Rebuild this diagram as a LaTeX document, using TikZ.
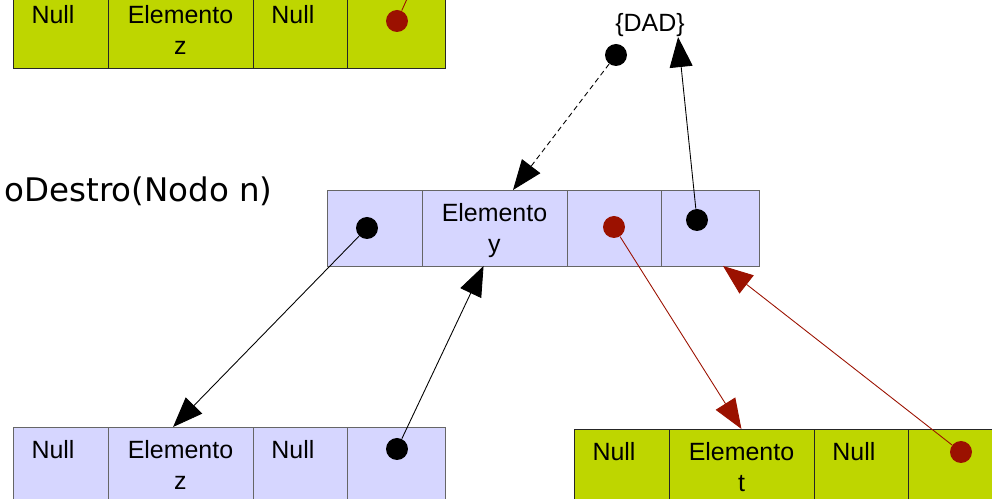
\documentclass[tikz,border=0pt]{standalone}
\usepackage{fontspec}
\setmainfont{Liberation Sans}
\newfontfamily\djvfont{DejaVu Sans}
\usetikzlibrary{arrows.meta,positioning}
\definecolor{leafgreen}{RGB}{190,214,0}
\definecolor{lilac}{RGB}{214,214,255}
\definecolor{ptrred}{RGB}{155,17,0}
\newcommand{\cellfont}{\fontsize{14.2}{17.5}\selectfont}
\newcommand{\nulltext}{Null\rule{0.3cm}{0pt}\\\phantom{z}}
\tikzstyle{arrow} = [-{Triangle[length=6mm,width=4.6mm]}]
\tikzstyle{cell} = [draw, rectangle, minimum width=1.9cm, minimum height=1.52cm, inner sep=0pt, outer sep=0pt, align=center, font=\cellfont, text depth=0pt]
\tikzstyle{widecell} = [cell, minimum width=2.9cm]
\tikzstyle{lastcell} = [cell, minimum width=1.95cm]
\tikzstyle{gcell} = [fill=leafgreen, draw=black!85]
\tikzstyle{lcell} = [fill=lilac, draw=black!60]
\tikzstyle{ptr} = [circle, fill, minimum size=4.4mm, inner sep=0pt]

\begin{document}
\begin{tikzpicture}[x=0.02cm, y=-0.02cm, line width=0.5pt]
        \useasboundingbox (0,0) rectangle (992,499);

        % upper record, cut by the frame
        \node[cell, gcell, anchor=north west] at (13,-8) (u1) {\nulltext};
        \node[widecell, gcell, right=0pt of u1] (u2) {Elemento\\z};
        \node[cell, gcell, right=0pt of u2] (u3) {\nulltext};
        \node[lastcell, gcell, right=0pt of u3] (u4) {};

        % node y
        \node[cell, lcell, anchor=north west] at (327,190) (m1) {};
        \node[widecell, lcell, right=0pt of m1] (m2) {Elemento\\y};
        \node[cell, lcell, right=0pt of m2] (m3) {};
        \node[lastcell, lcell, right=0pt of m3] (m4) {};

        % left child z
        \node[cell, lcell, anchor=north west] at (13,427) (b1) {\nulltext};
        \node[widecell, lcell, right=0pt of b1] (b2) {Elemento\\z};
        \node[cell, lcell, right=0pt of b2] (b3) {\nulltext};
        \node[lastcell, lcell, right=0pt of b3] (b4) {};

        % right child t
        \node[cell, gcell, anchor=north west] at (574,429) (r1) {\nulltext};
        \node[widecell, gcell, right=0pt of r1] (r2) {Elemento\\t};
        \node[cell, gcell, right=0pt of r2] (r3) {\nulltext};
        \node[lastcell, gcell, right=0pt of r3] (r4) {};

        \node[font=\cellfont, inner sep=0pt] at (650,25) (dad) {\{DAD\}};
        \node[font=\djvfont\fontsize{18.5}{22}\selectfont, anchor=base east, inner sep=0pt] at (273,202) (fn) {oDestro(Nodo n)};

        % pointers
        \node[ptr] at (616,55) (dadptr) {};
        \node[ptr] at (367,228) (m1ptr) {};
        \node[ptr, ptrred] at (614,227) (m3ptr) {};
        \node[ptr] at (697,220) (m4ptr) {};
        \node[ptr] at (397,449) (b4ptr) {};
        \node[ptr, ptrred] at (961,452) (r4ptr) {};
        \node[ptr, ptrred] at (397,21) (u4ptr) {};
        \coordinate (up) at (412,-12);

        \draw[arrow, densely dashed] (dadptr) -- (m2.64);
        \draw[arrow] (m4ptr) -- ([xshift=-4pt]dad.south east);
        \draw[arrow] (m1ptr) -- (b2.101);
        \draw[arrow] (b4ptr) -- (m2.254);
        \draw[arrow, ptrred] (m3ptr) -- (r2.north);
        \draw[arrow, ptrred] (r4ptr) -- (m4.-72);
        \draw[ptrred] (u4ptr) -- (up);

    \end{tikzpicture}
\end{document}
